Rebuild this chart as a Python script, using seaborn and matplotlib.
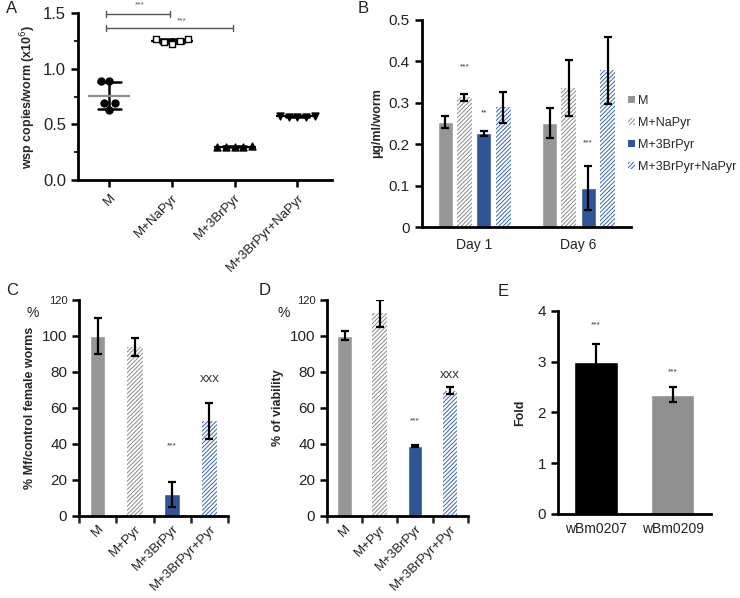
import matplotlib
matplotlib.use("Agg")
import matplotlib.pyplot as plt
import matplotlib.patches as mpatches
import numpy as np
import pandas as pd
import seaborn as sns

# panel A: wsp copies per worm (x10^6), individual worms
a_groups = ["M", "M+NaPyr", "M+3BrPyr", "M+3BrPyr+NaPyr"]
a_m = [0.89, 0.89, 0.69, 0.69, 0.63]
a_napyr = [1.27, 1.27, 1.24, 1.22, 1.25]
a_brpyr = [0.305, 0.30, 0.30, 0.298, 0.30]
a_both = [0.575, 0.57, 0.568, 0.57, 0.572]

# panel B: ug/ml/worm
b_days = ["Day 1", "Day 6"]
b_treat = ["M", "M+NaPyr", "M+3BrPyr", "M+3BrPyr+NaPyr"]
b_day1 = [0.253, 0.313, 0.226, 0.289]
b_day1_err = [0.015, 0.008, 0.006, 0.037]
b_day6 = [0.252, 0.335, 0.094, 0.378]
b_day6_err = [0.036, 0.068, 0.053, 0.080]

# panel C: % Mf/control female worms
cd_groups = ["M", "M+Pyr", "M+3BrPyr", "M+3BrPyr+Pyr"]
c_vals = [100, 94, 12, 52.5]
c_err = [10, 5, 7, 10]

# panel D: % of viability
d_vals = [100, 112.5, 39, 69.5]
d_err = [2.5, 7.5, 0.5, 2]

# panel E: fold
e_genes = ["wBm0207", "wBm0209"]
e_vals = [3.0, 2.35]
e_err = [0.35, 0.14]

GRAY = "#969696"
BLUE = "#2f5597"
HGRAY = "#8a8a8a"
HBLUE = "#3a64ad"
HATCH = "////////"

sns.set_theme(style="ticks")
plt.rcParams["font.family"] = ["Liberation Sans", "DejaVu Sans"]
plt.rcParams["hatch.linewidth"] = 0.7

fig = plt.figure(figsize=(7.4, 5.98), dpi=100)


def style_axes(ax):
    sns.despine(ax=ax)
    for s in ("left", "bottom"):
        ax.spines[s].set_linewidth(2)
        ax.spines[s].set_color("black")
    ax.tick_params(axis="both", direction="out", width=1.8, length=5,
                   color="black", labelsize=10, labelcolor="#222222")


def add_errs(ax, xs, vals, errs, cap=3):
    ax.errorbar(xs, vals, yerr=errs, fmt="none", ecolor="black",
                elinewidth=1.6, capsize=cap, capthick=1.6, zorder=5)


def hatch_bar(p, col):
    p.set_facecolor("white")
    p.set_edgecolor(col)
    p.set_hatch(HATCH)
    p.set_linewidth(0)


# ---------------- A ----------------
axA = fig.add_axes([0.1054, 0.699, 0.343, 0.279])
dfA = pd.DataFrame({
    "grp": np.repeat(a_groups, 5),
    "val": a_m + a_napyr + a_brpyr + a_both,
})
markers = {"M": "o", "M+NaPyr": "s", "M+3BrPyr": "^", "M+3BrPyr+NaPyr": "v"}
for g in a_groups:
    sub = dfA[dfA.grp == g]
    fc = "white" if g == "M+NaPyr" else "black"
    sns.swarmplot(data=sub, x="grp", y="val", order=a_groups, marker=markers[g],
                  color=fc, edgecolor="black", linewidth=1, size=5, ax=axA, zorder=3)
sns.pointplot(data=dfA, x="grp", y="val", order=a_groups, errorbar="sd",
              capsize=0.37, color="black", linestyle="none", marker="",
              err_kws={"linewidth": 1.8}, ax=axA)
sns.pointplot(data=dfA, x="grp", y="val", order=a_groups, errorbar=None,
              hue="grp", palette={"M": "#8f8f8f", "M+NaPyr": "black",
                                  "M+3BrPyr": "black", "M+3BrPyr+NaPyr": "black"},
              linestyle="none", marker="_", markersize=30, markeredgewidth=1.6,
              legend=False, ax=axA)
axA.set_xlim(-0.5, 3.55)
axA.set_ylim(0, 1.5)
axA.set_yticks([0, 0.5, 1.0, 1.5])
axA.set_yticklabels(["0.0", "0.5", "1.0", "1.5"])
axA.set_yticks([0.25, 0.75, 1.25], minor=True)
style_axes(axA)
axA.tick_params(axis="y", which="minor", direction="out", length=3, width=1.5)
axA.tick_params(axis="y", labelsize=12)
axA.set_xticks(range(4))
axA.set_xticklabels(a_groups, rotation=45, ha="right", rotation_mode="anchor",
                    fontsize=9.5)
axA.set_xlabel("")
axA.set_ylabel("wsp copies/worm (x10$^{6}$)", fontsize=9, fontweight="bold")
# significance brackets
for x2, yb, ys, xs in [(0.97, 1.49, 1.57, 0.48), (1.97, 1.365, 1.43, 1.15)]:
    axA.plot([-0.05, x2], [yb, yb], color="#555555", lw=1, clip_on=False)
    for xx in (-0.05, x2):
        axA.plot([xx, xx], [yb - 0.025, yb + 0.025], color="#555555", lw=1,
                 clip_on=False)
    axA.text(xs, ys, "***", ha="center", va="center", fontsize=6,
             color="#555555", clip_on=False)

# ---------------- B ----------------
axB = fig.add_axes([0.570, 0.6204, 0.2824, 0.3462])
dfB = pd.DataFrame({
    "day": np.repeat(b_days, 4),
    "treat": b_treat * 2,
    "val": b_day1 + b_day6,
})
b_pal = {"M": GRAY, "M+NaPyr": HGRAY, "M+3BrPyr": BLUE, "M+3BrPyr+NaPyr": HBLUE}
sns.barplot(data=dfB, x="day", y="val", hue="treat", hue_order=b_treat,
            palette=b_pal, width=0.74, gap=0.22, errorbar=None, legend=False,
            saturation=1, ax=axB)
b_errs = {t: [b_day1_err[i], b_day6_err[i]] for i, t in enumerate(b_treat)}
b_vals = {t: [b_day1[i], b_day6[i]] for i, t in enumerate(b_treat)}
for t, cont in zip(b_treat, axB.containers):
    xs = [p.get_x() + p.get_width() / 2 for p in cont]
    for p in cont:
        if t == "M+NaPyr":
            hatch_bar(p, HGRAY)
        elif t == "M+3BrPyr+NaPyr":
            hatch_bar(p, HBLUE)
    add_errs(axB, xs, b_vals[t], b_errs[t])
axB.set_xlim(-0.5, 1.5)
axB.set_ylim(0, 0.5)
axB.set_yticks([0, 0.1, 0.2, 0.3, 0.4, 0.5])
axB.set_yticklabels(["0", "0.1", "0.2", "0.3", "0.4", "0.5"])
style_axes(axB)
axB.tick_params(axis="x", length=0, pad=8)
axB.tick_params(axis="y", labelsize=11)
axB.set_xlabel("")
axB.set_ylabel("µg/ml/worm", fontsize=9, fontweight="bold")
c0 = axB.containers


def bar_mid(p):
    return p.get_x() + p.get_width() / 2


axB.text(bar_mid(c0[1][0]), 0.387, "***", ha="center", va="center", fontsize=6,
         color="#333333")
axB.text(bar_mid(c0[2][0]), 0.275, "**", ha="center", va="center", fontsize=6,
         color="#333333")
axB.text(bar_mid(c0[2][1]), 0.203, "***", ha="center", va="center", fontsize=6,
         color="#333333")
handles = [
    mpatches.Patch(facecolor=GRAY, edgecolor=GRAY, lw=0, label="M"),
    mpatches.Patch(facecolor="white", edgecolor=HGRAY, hatch=HATCH, lw=0,
                   label="M+NaPyr"),
    mpatches.Patch(facecolor=BLUE, edgecolor=BLUE, lw=0, label="M+3BrPyr"),
    mpatches.Patch(facecolor="white", edgecolor=HBLUE, hatch=HATCH, lw=0,
                   label="M+3BrPyr+NaPyr"),
]
axB.legend(handles=handles, loc="center left", bbox_to_anchor=(0.985, 0.45),
           frameon=False, fontsize=9, handlelength=0.55, handleheight=0.55,
           handletextpad=0.25, labelspacing=0.8, borderaxespad=0,
           borderpad=0)


def cd_panel(rect, vals, errs, ylabel, stars_y, x_y):
    ax = fig.add_axes(rect)
    df = pd.DataFrame({"grp": cd_groups, "val": vals})
    pal = {cd_groups[0]: GRAY, cd_groups[1]: HGRAY, cd_groups[2]: BLUE,
           cd_groups[3]: HBLUE}
    sns.barplot(data=df, x="grp", y="val", hue="grp", palette=pal, width=0.42,
                errorbar=None, legend=False, saturation=1, ax=ax)
    for g, cont in zip(cd_groups, ax.containers):
        for p in cont:
            if g == cd_groups[1]:
                hatch_bar(p, HGRAY)
            elif g == cd_groups[3]:
                hatch_bar(p, HBLUE)
    add_errs(ax, range(4), vals, errs)
    ax.set_xlim(-0.5, 3.5)
    ax.set_ylim(0, 120)
    ax.set_yticks(range(0, 121, 20))
    style_axes(ax)
    ax.set_xticks(range(4))
    ax.set_xticklabels(cd_groups, rotation=45, ha="right", rotation_mode="anchor",
                       fontsize=9.5)
    ax.set_xticks([-0.5, 0.5, 1.5, 2.5, 3.5], minor=True)
    ax.tick_params(axis="x", which="major", length=0, pad=5)
    ax.tick_params(axis="x", which="minor", direction="out", length=5, width=1.8)
    ax.tick_params(axis="y", labelsize=11)
    ax.get_yticklabels()[-1].set_fontsize(8)
    ax.set_xlabel("")
    ax.set_ylabel(ylabel, fontsize=9, fontweight="bold")
    ax.text(stars_y[0], stars_y[1], "***", ha="center", va="center", fontsize=6,
            color="#333333")
    ax.text(3, x_y, "xxx", ha="center", va="center", fontsize=9.5,
            color="#333333")
    ax.text(-0.31, 0.94, "%", transform=ax.transAxes, ha="center", va="center",
            fontsize=10, color="#222222")
    return ax


cd_panel([0.1068, 0.1376, 0.2014, 0.3607], c_vals, c_err,
         "% Mf/control female worms", (2, 39), 76)
cd_panel([0.442, 0.1376, 0.190, 0.3607], d_vals, d_err,
         "% of viability", (2, 53), 78.5)

# ---------------- E ----------------
axE = fig.add_axes([0.754, 0.1405, 0.2064, 0.3398])
dfE = pd.DataFrame({"gene": e_genes, "val": e_vals})
sns.barplot(data=dfE, x="gene", y="val", hue="gene",
            palette={"wBm0207": "black", "wBm0209": "#8f8f8f"}, width=0.57,
            errorbar=None, legend=False, saturation=1, ax=axE)
add_errs(axE, range(2), e_vals, e_err)
axE.set_xlim(-0.5, 1.5)
axE.set_ylim(0, 4)
axE.set_yticks(range(5))
style_axes(axE)
axE.tick_params(axis="x", length=0, pad=6, labelsize=10)
axE.tick_params(axis="y", labelsize=11)
axE.set_xlabel("")
axE.set_ylabel("Fold", fontsize=9, fontweight="bold", labelpad=8)
axE.text(1, 2.8, "***", ha="center", va="center", fontsize=6, color="#333333")
axE.text(0, 3.72, "***", ha="center", va="center", fontsize=6, color="#333333")

# panel letters
for lab, x, y in [("A", 0.008, 0.985), ("B", 0.483, 0.985), ("C", 0.008, 0.515),
                  ("D", 0.349, 0.515), ("E", 0.672, 0.512)]:
    fig.text(x, y, lab, fontsize=12, ha="left", va="center", color="#222222")

fig.savefig("out.png", dpi=100)
